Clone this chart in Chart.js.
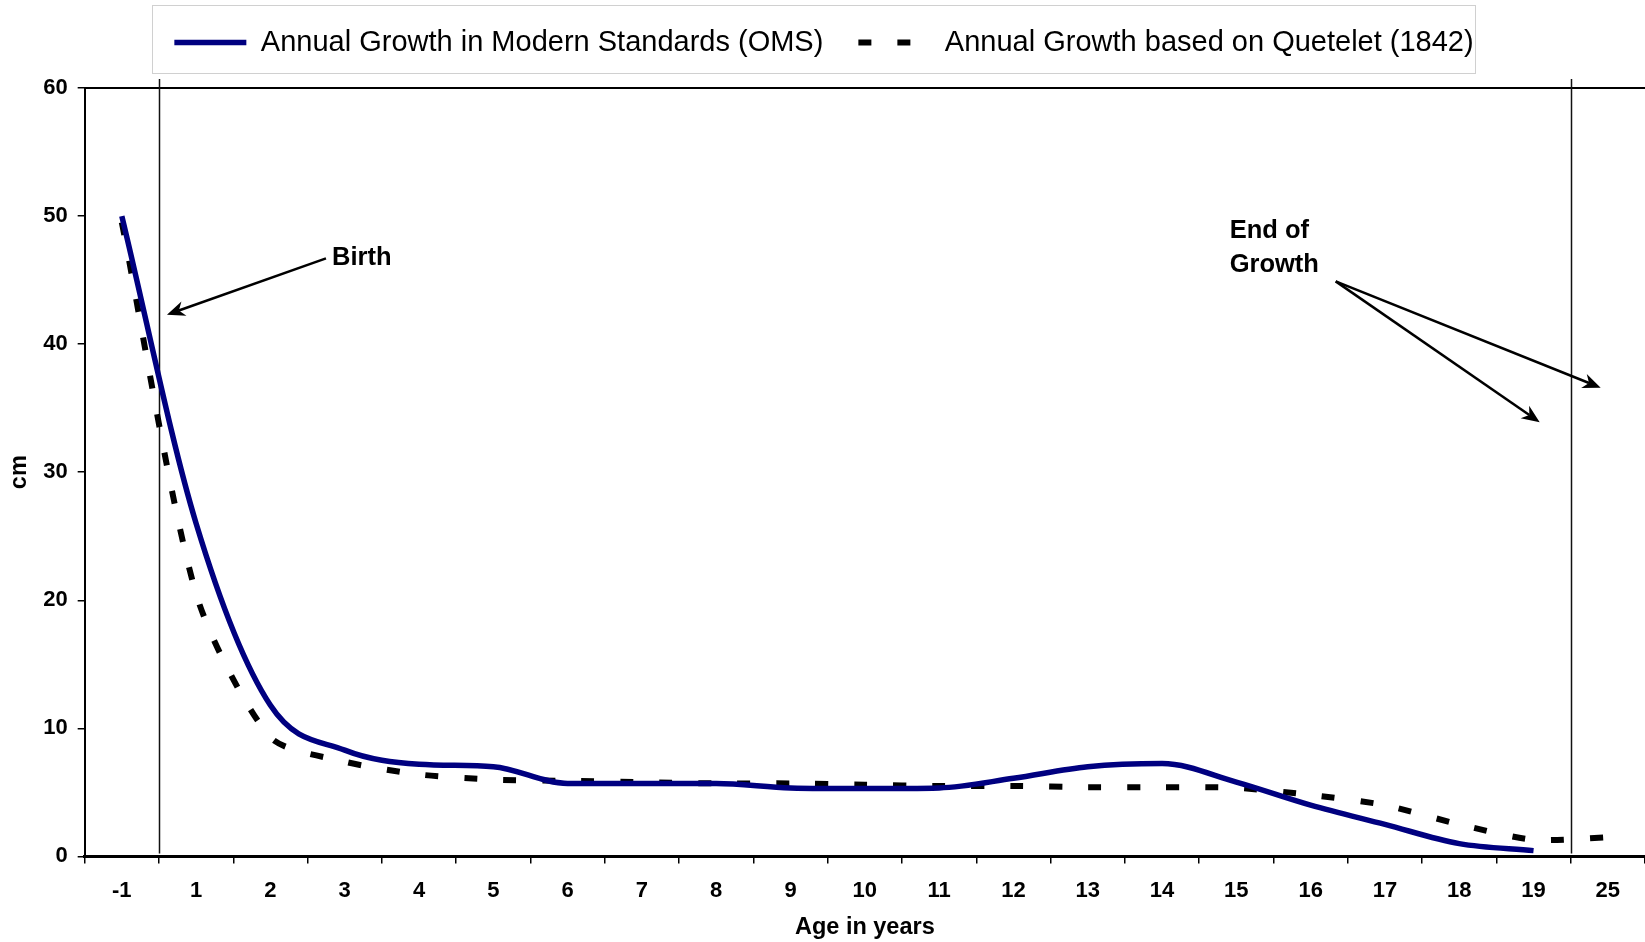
<!DOCTYPE html>
<html>
<head>
<meta charset="utf-8">
<script src="https://cdn.jsdelivr.net/npm/chart.js@4/dist/chart.umd.min.js"></script>
<style>
html,body{margin:0;padding:0;background:#fff;overflow:hidden}
#wrap{width:1645px;height:942px;position:relative}
</style>
</head>
<body>
<div id="wrap"><canvas id="c"></canvas></div>
<script>
// ---- data ----
const ageLabels = ['-1','1','2','3','4','5','6','7','8','9','10','11','12','13','14','15','16','17','18','19','25'];
const omsGrowth = [50, 26, 11.8, 8.3, 7.2, 7.0, 5.7, 5.7, 5.7, 5.35, 5.3, 5.35, 6.1, 7.0, 7.25, 5.8, 4.0, 2.5, 1.0, 0.45, null];
const queteletGrowth = [49.5, 20.5, 9.3, 7.4, 6.4, 6.0, 5.9, 5.8, 5.7, 5.7, 5.6, 5.5, 5.5, 5.4, 5.4, 5.35, 4.8, 4.0, 2.5, 1.3, 1.5];
const seriesNames = ['Annual Growth in Modern Standards (OMS)', 'Annual Growth based on Quetelet (1842)'];
const yMin = 0, yMax = 60, yStep = 10;
const birthBetween = ['-1', '1'];
const endBetween = ['19', '25'];

const FONT = "'Liberation Sans', Arial, Helvetica, sans-serif";
Chart.defaults.font.family = FONT;
Chart.defaults.color = '#000';

function boundaryX(chart, pair) {
  const xs = chart.scales.x;
  const a = xs.getPixelForValue(ageLabels.indexOf(pair[0]));
  const b = xs.getPixelForValue(ageLabels.indexOf(pair[1]));
  return (a + b) / 2;
}

function arrow(ctx, x1, y1, x2, y2) {
  ctx.save();
  ctx.strokeStyle = '#000';
  ctx.fillStyle = '#000';
  ctx.lineWidth = 2.5;
  const ang = Math.atan2(y2 - y1, x2 - x1);
  const L = 18, W = 7.5;
  const bx = x2 - Math.cos(ang) * L, by = y2 - Math.sin(ang) * L;
  const nx = x2 - Math.cos(ang) * (L * 0.7), ny = y2 - Math.sin(ang) * (L * 0.7);
  ctx.beginPath();
  ctx.moveTo(x1, y1);
  ctx.lineTo(nx, ny);
  ctx.stroke();
  const px = -Math.sin(ang), py = Math.cos(ang);
  ctx.beginPath();
  ctx.moveTo(x2, y2);
  ctx.lineTo(bx + px * W, by + py * W);
  ctx.lineTo(nx, ny);
  ctx.lineTo(bx - px * W, by - py * W);
  ctx.closePath();
  ctx.fill();
  ctx.restore();
}

// empty layout box that keeps a gap between the legend and the plot
const spacerPlugin = {
  id: 'spacer',
  beforeInit(chart) {
    const box = {
      position: 'top', weight: -10, fullSize: true, options: {},
      top: 0, left: 0, right: 0, bottom: 0, width: 0, height: 0,
      isHorizontal() { return true; },
      update(maxWidth) { this.width = maxWidth; this.height = 21; return {width: this.width, height: this.height}; },
      draw() {}
    };
    Chart.layouts.addBox(chart, box);
  }
};

const framePlugin = {
  id: 'frame',
  beforeDatasetsDraw(chart) {
    const ctx = chart.ctx, ca = chart.chartArea;
    ctx.save();
    ctx.strokeStyle = '#000';
    ctx.lineWidth = 2;
    ctx.beginPath();
    ctx.moveTo(ca.left, ca.top);
    ctx.lineTo(ca.right + 5, ca.top);
    ctx.stroke();
    ctx.strokeStyle = '#111';
    ctx.lineWidth = 1.5;
    [birthBetween, endBetween].forEach(p => {
      const x = Math.round(boundaryX(chart, p)) + 0.5;
      ctx.beginPath();
      ctx.moveTo(x, ca.top - 9);
      ctx.lineTo(x, ca.bottom - 3);
      ctx.stroke();
    });
    ctx.restore();
  },
  afterDraw(chart) {
    const ctx = chart.ctx;
    const ys = chart.scales.y;
    const lg = chart.legend;
    if (lg && lg.legendHitBoxes && lg.legendHitBoxes.length) {
      const hb = lg.legendHitBoxes;
      const l = hb[0].left - 22;
      const r = hb[hb.length - 1].left + hb[hb.length - 1].width + 2;
      ctx.save();
      ctx.strokeStyle = '#d0d0d0';
      ctx.lineWidth = 1;
      ctx.strokeRect(Math.round(l) + 0.5, 5.5, Math.round(r - l), 68);
      ctx.restore();
    }
    ctx.save();
    ctx.font = 'bold 25.5px ' + FONT;
    ctx.fillStyle = '#000';
    ctx.textBaseline = 'middle';
    ctx.textAlign = 'left';
    const xb = boundaryX(chart, birthBetween);
    ctx.fillText('Birth', xb + 173, ys.getPixelForValue(46.7));
    arrow(ctx, xb + 167, ys.getPixelForValue(46.7), xb + 8, ys.getPixelForValue(42.3));
    const xe = boundaryX(chart, endBetween);
    ctx.fillText('End of', xe - 341, ys.getPixelForValue(48.8));
    ctx.fillText('Growth', xe - 341, ys.getPixelForValue(46.2));
    const ox = xe - 235, oy = ys.getPixelForValue(44.9);
    arrow(ctx, ox, oy, xe - 31, ys.getPixelForValue(33.9));
    arrow(ctx, ox, oy, xe + 30, ys.getPixelForValue(36.6));
    ctx.restore();
  }
};

new Chart(document.getElementById('c'), {
  type: 'line',
  data: {
    labels: ageLabels,
    datasets: [
      {
        label: seriesNames[0],
        data: omsGrowth,
        borderColor: '#000080',
        backgroundColor: '#000080',
        borderWidth: 5.5,
        pointRadius: 0,
        cubicInterpolationMode: 'monotone',
        borderCapStyle: 'butt',
        spanGaps: false
      },
      {
        label: seriesNames[1],
        data: queteletGrowth,
        borderColor: '#000',
        backgroundColor: '#000',
        borderWidth: 6,
        borderDash: [13, 26],
        pointRadius: 0,
        tension: 0.25,
        borderCapStyle: 'butt'
      }
    ]
  },
  options: {
    responsive: true,
    maintainAspectRatio: false,
    animation: false,
    devicePixelRatio: 1,
    layout: { padding: { top: -7, left: 0, right: -3, bottom: 0 } },
    plugins: {
      legend: {
        position: 'top',
        align: 'center',
        labels: {
          usePointStyle: true,
          pointStyle: 'line',
          pointStyleWidth: 72,
          boxHeight: 29,
          color: '#000',
          padding: 35,
          font: { size: 29, family: FONT },
          generateLabels(chart) {
            const items = Chart.defaults.plugins.legend.labels.generateLabels(chart);
            items.forEach(it => {
              const ds = chart.data.datasets[it.datasetIndex];
              it.lineDash = ds.borderDash || [];
              it.lineWidth = ds.borderWidth;
              it.lineCap = 'butt';
              it.strokeStyle = ds.borderColor;
            });
            return items;
          }
        }
      },
      tooltip: { enabled: false }
    },
    scales: {
      x: {
        type: 'category',
        offset: true,
        grid: { display: true, drawOnChartArea: false, drawTicks: true, tickLength: 7, offset: true, color: '#000', lineWidth: 1.5 },
        border: { display: true, color: '#000', width: 3 },
        ticks: { color: '#000', font: { size: 22, weight: 'bold' }, padding: 14, maxRotation: 0, autoSkip: false },
        title: { display: true, text: 'Age in years', color: '#000', font: { size: 23.5, weight: 'bold' }, padding: { top: -4, bottom: 0 } }
      },
      y: {
        min: yMin,
        max: yMax,
        grid: { display: true, drawOnChartArea: false, drawTicks: true, tickLength: 7, color: '#000', lineWidth: 1.5 },
        border: { display: true, color: '#000', width: 2 },
        ticks: { stepSize: yStep, color: '#000', font: { size: 22, weight: 'bold' }, padding: 10 },
        title: { display: true, text: 'cm', color: '#000', font: { size: 23.5, weight: 'bold' }, padding: { top: 5, bottom: 0 } }
      }
    }
  },
  plugins: [spacerPlugin, framePlugin]
});
</script>
</body>
</html>
